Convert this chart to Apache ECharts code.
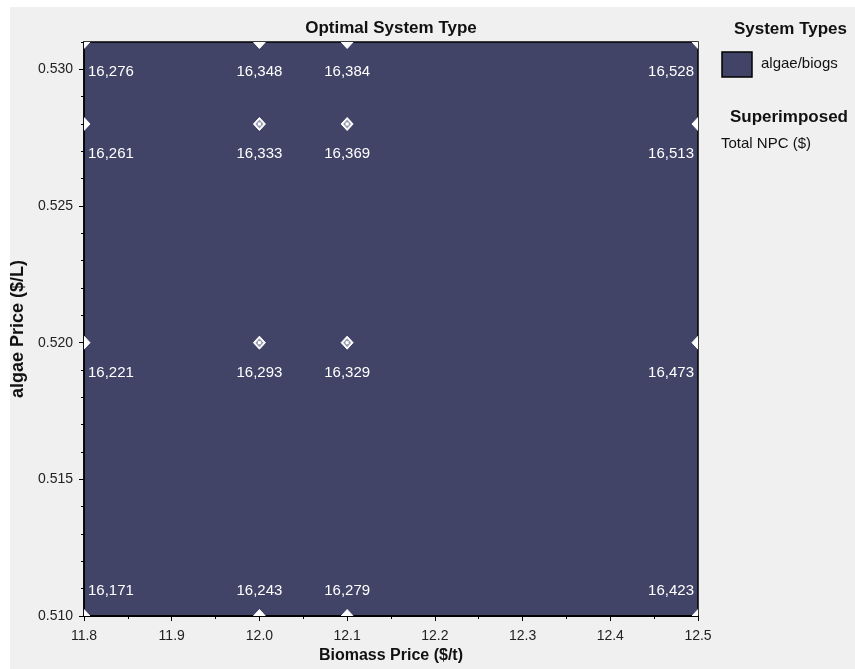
<!DOCTYPE html>
<html><head><meta charset="utf-8">
<script src="https://cdn.jsdelivr.net/npm/echarts@6/dist/echarts.min.js"></script>
<style>html,body{margin:0;padding:0;background:#fff}#c{width:855px;height:669px}</style>
</head><body><div id="c"></div>
<script>
// ---- data ----
const biomassPrices = [11.8, 12.0, 12.1, 12.5];          // $/t
const algaePrices = [0.531, 0.528, 0.520, 0.510];        // $/L
const totalNPC = [
  [16276, 16348, 16384, 16528],
  [16261, 16333, 16369, 16513],
  [16221, 16293, 16329, 16473],
  [16171, 16243, 16279, 16423]
];
const xRange = [11.8, 12.5];
const yRange = [0.510, 0.531];
const yTickLabels = [0.510, 0.515, 0.520, 0.525, 0.530];
const systemTypes = ['algae/biogs'];
const superimposedVars = ['Total NPC ($)'];
const titleText = 'Optimal System Type';

// ---- build ----
const points = [];
algaePrices.forEach((yv, r) => biomassPrices.forEach((xv, c) => points.push([xv, yv, totalNPC[r][c]])));

const FONT = '"Liberation Sans", Arial, sans-serif';
const REGION = '#414466';

const chart = echarts.init(document.getElementById('c'), null, {renderer: 'canvas'});
const option = {
  backgroundColor: '#f0f0f0',
  animation: false,
  textStyle: {fontFamily: FONT},
  grid: {left: 84, right: 157, top: 42, bottom: 52, show: true, backgroundColor: REGION, borderColor: '#000', borderWidth: 1.5},
  xAxis: {
    type: 'value', min: xRange[0], max: xRange[1], interval: 0.1,
    name: 'Biomass Price ($/t)', nameLocation: 'middle', nameGap: 32,
    nameTextStyle: {fontFamily: FONT, fontWeight: 'bold', fontSize: 16, color: '#111'},
    axisLine: {lineStyle: {color: '#000', width: 2}},
    axisTick: {length: 5, lineStyle: {color: '#000'}},
    minorTick: {show: true, splitNumber: 2, length: 3, lineStyle: {color: '#000'}},
    splitLine: {show: false},
    axisLabel: {formatter: v => v.toFixed(1), fontSize: 14, color: '#222', margin: 13, fontFamily: FONT}
  },
  yAxis: [{
    type: 'value', min: yRange[0], max: yRange[1], interval: 0.005,
    name: 'algae Price ($/L)', nameLocation: 'middle', nameGap: 48,
    nameTextStyle: {fontFamily: FONT, fontWeight: 'bold', fontSize: 18, color: '#111'},
    axisLine: {show: true, lineStyle: {color: '#000', width: 1.5}},
    axisTick: {show: true, length: 5, lineStyle: {color: '#000'}, customValues: yTickLabels},
    splitLine: {show: false},
    axisLabel: {formatter: v => v.toFixed(3), fontSize: 14, color: '#222', margin: 11, fontFamily: FONT,
      customValues: yTickLabels}
  }, {
    type: 'value', min: yRange[0], max: yRange[1], interval: 0.001, position: 'left',
    axisLine: {show: false},
    axisTick: {show: true, length: 3, lineStyle: {color: '#000'}},
    axisLabel: {show: false},
    splitLine: {show: false}
  }],
  series: [{
    type: 'custom',
    clip: true,
    data: points,
    renderItem: function (params, api) {
      const x = api.value(0), y = api.value(1), v = api.value(2);
      const p = api.coord([x, y]);
      const onEdge = x <= xRange[0] || x >= xRange[1] || y <= yRange[0] || y >= yRange[1];
      const w = 6, h = 6.5;
      const children = [{
        type: 'polygon',
        shape: {points: [[p[0], p[1] - h], [p[0] + w, p[1]], [p[0], p[1] + h], [p[0] - w, p[1]]]},
        style: {fill: '#ffffff', stroke: '#ffffff', lineWidth: 1}
      }];
      if (!onEdge) {
        children.push({
          type: 'polygon',
          shape: {points: [[p[0], p[1] - 4.5], [p[0] + 4, p[1]], [p[0], p[1] + 4.5], [p[0] - 4, p[1]]]},
          style: {fill: '#9a9db2'}
        });
        children.push({type: 'rect', shape: {x: p[0] - 1.5, y: p[1] - 1.5, width: 3, height: 3}, style: {fill: '#ffffff'}});
      }
      let align = 'center', tx = p[0];
      if (x <= xRange[0]) { align = 'left'; tx = p[0] + 4; }
      else if (x >= xRange[1]) { align = 'right'; tx = p[0] - 4; }
      const ty = (y <= yRange[0]) ? p[1] - 25 : p[1] + 30;
      children.push({
        type: 'text', x: tx, y: ty,
        style: {text: v.toLocaleString('en-US'), fill: '#ffffff', font: '15px ' + FONT, align: align, verticalAlign: 'middle'}
      });
      return {type: 'group', children: children};
    }
  }],
  graphic: [
    {type: 'rect', left: 0, top: 0, shape: {width: 855, height: 7}, style: {fill: '#ffffff'}, silent: true},
    {type: 'rect', left: 0, top: 0, shape: {width: 10, height: 669}, style: {fill: '#ffffff'}, silent: true},
    {type: 'text', x: 391, y: 28, style: {text: titleText, font: 'bold 17px ' + FONT, fill: '#111', align: 'center', verticalAlign: 'middle'}},
    {type: 'text', x: 847, y: 29, style: {text: 'System Types', font: 'bold 17px ' + FONT, fill: '#111', align: 'right', verticalAlign: 'middle'}},
    {type: 'rect', shape: {x: 722, y: 52, width: 30, height: 25}, style: {fill: REGION, stroke: '#000', lineWidth: 1.5}},
    {type: 'text', x: 761, y: 64, style: {text: systemTypes[0], font: '15px ' + FONT, fill: '#111', align: 'left', verticalAlign: 'middle'}},
    {type: 'text', x: 848, y: 117, style: {text: 'Superimposed', font: 'bold 17px ' + FONT, fill: '#111', align: 'right', verticalAlign: 'middle'}},
    {type: 'text', x: 721, y: 144, style: {text: superimposedVars[0], font: '15px ' + FONT, fill: '#111', align: 'left', verticalAlign: 'middle'}}
  ]
};
chart.setOption(option);
</script>
</body></html>
